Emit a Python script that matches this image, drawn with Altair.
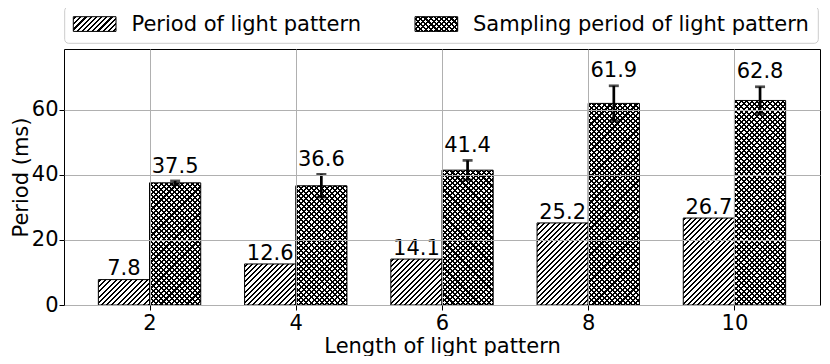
import math
import altair as alt
import pandas as pd

# ---------------- data ----------------
lengths = [2, 4, 6, 8, 10]
period_vals = [7.8, 12.6, 14.1, 25.2, 26.7]
sampling_vals = [37.5, 36.6, 41.4, 61.9, 62.8]
sampling_err = [0.6, 3.5, 3.0, 5.4, 4.2]
series_names = ["Period of light pattern", "Sampling period of light pattern"]

# ---------------- layout ----------------
W, H = 756, 256
X_DOM = [-0.585, 4.585]
Y_DOM = [0, 78.6]
BAR = 0.35
FONT = "DejaVu Sans"
FS = 21
PX_X = W / (X_DOM[1] - X_DOM[0])
PX_Y = H / (Y_DOM[1] - Y_DOM[0])

rows = []
for i, L in enumerate(lengths):
    rows.append({"idx": i, "length": L, "series": 0, "value": period_vals[i], "err": 0.0})
    rows.append({"idx": i, "length": L, "series": 1, "value": sampling_vals[i], "err": sampling_err[i]})
df = pd.DataFrame(rows)


def hatch_fill(w, h, direction, bg, fg="black", spacing=5.2, lw=1.45):
    """Linear gradient with hard stops that draws diagonal hatch lines."""
    period = spacing / math.sqrt(2)
    D = (w + h) / math.sqrt(2)
    k = (w + h) / (w * w + h * h)
    if direction == "/":
        x1, y1, x2, y2 = 0, 0, k * w, k * h
    else:
        x1, y1, x2, y2 = 0, 1, k * w, 1 - k * h
    stops = [(0.0, bg)]
    c = period / 2
    while c - lw / 2 < D:
        a = max(c - lw / 2, 0) / D
        b = min(c + lw / 2, D) / D
        stops += [(a, bg), (a, fg), (b, fg), (b, bg)]
        c += period
    stops.append((1.0, bg))
    return {
        "gradient": "linear",
        "x1": round(x1, 6), "y1": round(y1, 6),
        "x2": round(x2, 6), "y2": round(y2, 6),
        "stops": [{"offset": round(o, 5), "color": col} for o, col in stops],
    }


x_axis = alt.Axis(
    values=list(range(len(lengths))),
    labelExpr="[" + ",".join("'%s'" % L for L in lengths) + "][datum.value]",
    title="Length of light pattern",
    grid=True, zindex=1, titlePadding=2,
)
y_axis = alt.Axis(values=[0, 20, 40, 60], title="Period (ms)", grid=True, zindex=1,
                  titlePadding=0, labelPadding=1)
xs = alt.Scale(domain=X_DOM, nice=False, zero=False, padding=0)
ys = alt.Scale(domain=Y_DOM, nice=False, padding=0)

base = alt.Chart(df).transform_calculate(
    x0="datum.series == 0 ? datum.idx - %f : datum.idx" % BAR,
    x1="datum.series == 0 ? datum.idx : datum.idx + %f" % BAR,
    xc="datum.series == 0 ? datum.idx - %f : datum.idx + %f" % (BAR / 2, BAR / 2),
    top="datum.value + datum.err",
    lo="datum.value - datum.err",
    zero="0",
)

layers = []
bw = BAR * PX_X
TRANSPARENT = "rgba(255,255,255,0)"
for i in range(len(lengths)):
    for s, vals in enumerate([period_vals, sampling_vals]):
        h = vals[i] * PX_Y
        sel = base.transform_filter(f"datum.idx == {i} && datum.series == {s}")
        layers.append(
            sel.mark_rect(fill=hatch_fill(bw, h, "/", "white"), stroke="black", strokeWidth=1).encode(
                x=alt.X("x0:Q", scale=xs, axis=x_axis),
                x2="x1:Q",
                y=alt.Y("value:Q", scale=ys, axis=y_axis),
                y2="zero:Q",
            )
        )
        if s == 1:
            layers.append(
                sel.mark_rect(fill=hatch_fill(bw, h, "\\", TRANSPARENT), strokeWidth=0).encode(
                    x=alt.X("x0:Q", scale=xs, axis=x_axis),
                    x2="x1:Q",
                    y=alt.Y("value:Q", scale=ys, axis=y_axis),
                    y2="zero:Q",
                )
            )

s2 = base.transform_filter("datum.series == 1")
s1 = base.transform_filter("datum.series == 0")

err_rule = s2.mark_rule(color="black", strokeWidth=2.7).encode(
    x=alt.X("xc:Q", scale=xs, axis=x_axis),
    y=alt.Y("lo:Q", scale=ys, axis=y_axis),
    y2="top:Q",
)
cap_top = s2.mark_tick(color="black", orient="horizontal", size=10, thickness=2.7).encode(
    x=alt.X("xc:Q", scale=xs, axis=x_axis),
    y=alt.Y("top:Q", scale=ys, axis=y_axis),
)
cap_lo = s2.mark_tick(color="black", orient="horizontal", size=10, thickness=2.7).encode(
    x=alt.X("xc:Q", scale=xs, axis=x_axis),
    y=alt.Y("lo:Q", scale=ys, axis=y_axis),
)

lab1 = s1.mark_text(font=FONT, fontSize=FS, baseline="alphabetic", dy=-4.3, color="black").encode(
    x=alt.X("xc:Q", scale=xs, axis=x_axis),
    y=alt.Y("top:Q", scale=ys, axis=y_axis),
    text=alt.Text("value:Q", format=".1f"),
)
lab2 = s2.mark_text(font=FONT, fontSize=FS, baseline="alphabetic", dy=-8.4, color="black").encode(
    x=alt.X("xc:Q", scale=xs, axis=x_axis),
    y=alt.Y("top:Q", scale=ys, axis=y_axis),
    text=alt.Text("value:Q", format=".1f"),
)

# ---------------- legend (drawn manually) ----------------
leg_box = alt.Chart(alt.Data(values=[{"k": 0}])).mark_rect(
    fill="white", stroke="#cccccc", strokeWidth=1, cornerRadius=4
).encode(x=alt.value(0.7), x2=alt.value(754.3), y=alt.value(-42.3), y2=alt.value(-5.7))

sw_w, sw_h = 42.7, 14.7
sw_y0, sw_y1 = -32.3, -32.3 + sw_h
sw_x = [9.3, 351.0]
txt_x = [67.5, 409.0]
leg_layers = [leg_box]
for j, name in enumerate(series_names):
    one = alt.Chart(alt.Data(values=[{"label": name}]))
    leg_layers.append(
        one.mark_rect(fill=hatch_fill(sw_w, sw_h, "/", "white"), stroke="black", strokeWidth=1).encode(
            x=alt.value(sw_x[j]), x2=alt.value(sw_x[j] + sw_w), y=alt.value(sw_y0), y2=alt.value(sw_y1)
        )
    )
    if j == 1:
        leg_layers.append(
            one.mark_rect(fill=hatch_fill(sw_w, sw_h, "\\", TRANSPARENT), strokeWidth=0).encode(
                x=alt.value(sw_x[j]), x2=alt.value(sw_x[j] + sw_w), y=alt.value(sw_y0), y2=alt.value(sw_y1)
            )
        )
    leg_layers.append(
        one.mark_text(font=FONT, fontSize=FS, align="left", baseline="alphabetic", color="black").encode(
            x=alt.value(txt_x[j]), y=alt.value(-18.3), text="label:N"
        )
    )

chart = alt.layer(*layers, err_rule, cap_top, cap_lo, lab1, lab2, *leg_layers).properties(
    width=W, height=H,
    autosize=alt.AutoSizeParams(type="none"),
    padding={"left": 56, "top": 41, "right": 2, "bottom": 51},
).configure_view(
    stroke="black", strokeWidth=1
).configure_axis(
    labelFont=FONT, titleFont=FONT, labelFontSize=FS, titleFontSize=FS,
    titleFontWeight="normal", labelColor="black", titleColor="black",
    gridColor="#b0b0b0", gridWidth=1, tickColor="black", tickSize=5, tickWidth=1,
    labelPadding=2, domain=False,
)

chart.save("out.html", embed_options={"renderer": "svg", "actions": False})
